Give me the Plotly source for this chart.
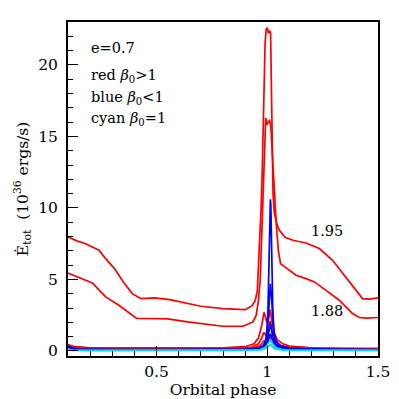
import plotly.graph_objects as go

# ---- data ----
r195_x = [0.10,0.14,0.18,0.24,0.27,0.31,0.35,0.39,0.43,0.49,0.56,0.63,0.70,0.80,0.90,0.93,0.945,0.955,0.962,0.972,0.978,0.985,0.99,0.995,1.0,1.005,1.01,1.015,1.018,1.022,1.026,1.032,1.045,1.055,1.08,1.115,1.175,1.235,1.295,1.355,1.40,1.43,1.46,1.5]
r195_y = [7.97,7.7,7.5,7.04,6.46,5.76,4.83,4.01,3.66,3.71,3.59,3.36,3.13,2.96,2.89,3.15,3.5,4.2,6.5,10.0,13.0,18.0,21.5,22.5,22.6,22.2,22.4,22.2,20.0,15.0,11.0,9.6,8.8,8.44,7.95,7.74,7.55,7.16,6.34,5.17,4.24,3.66,3.62,3.71]

r188_x = [0.10,0.14,0.18,0.21,0.27,0.33,0.37,0.41,0.46,0.55,0.64,0.70,0.80,0.89,0.935,0.95,0.96,0.968,0.975,0.982,0.988,0.993,0.998,1.003,1.01,1.016,1.022,1.03,1.04,1.05,1.06,1.09,1.13,1.175,1.213,1.265,1.325,1.385,1.415,1.45,1.5]
r188_y = [5.45,5.22,4.94,4.76,3.78,3.2,2.73,2.27,2.27,2.24,2.03,1.92,1.73,1.73,2.03,2.5,3.5,5.0,8.0,11.0,15.0,16.3,15.8,16.0,16.1,15.7,14.0,11.5,9.0,7.0,6.1,5.76,5.3,5.06,4.83,4.24,3.55,2.62,2.34,2.3,2.34]

r3_x = [0.10,0.13,0.2,0.4,0.6,0.8,0.9,0.94,0.96,0.975,0.985,0.993,1.0,1.007,1.013,1.02,1.03,1.045,1.07,1.1,1.2,1.35,1.5]
r3_y = [0.45,0.3,0.22,0.2,0.2,0.22,0.3,0.5,0.9,1.8,2.7,2.3,1.9,2.3,2.9,2.2,1.3,0.8,0.5,0.35,0.22,0.18,0.17]
r4_x = [0.10,0.13,0.2,0.5,0.8,0.93,0.96,0.975,0.985,0.995,1.003,1.013,1.022,1.035,1.06,1.1,1.25,1.5]
r4_y = [0.4,0.28,0.2,0.18,0.2,0.28,0.5,0.9,1.3,1.1,1.4,2.1,1.3,0.7,0.4,0.28,0.18,0.16]
r5_x = [0.10,0.13,0.2,0.5,0.8,0.94,0.97,0.985,0.995,1.005,1.013,1.022,1.04,1.07,1.15,1.5]
r5_y = [0.35,0.25,0.18,0.16,0.17,0.22,0.4,0.7,0.55,0.8,1.0,0.7,0.4,0.25,0.17,0.15]

b1_x = [0.10,0.12,0.15,0.3,0.6,0.9,0.96,0.98,0.99,0.997,1.003,1.007,1.01,1.012,1.014,1.016,1.018,1.021,1.025,1.03,1.037,1.05,1.07,1.1,1.2,1.5]
b1_y = [0.35,0.2,0.14,0.1,0.1,0.13,0.2,0.35,0.6,1.2,2.8,5.5,8.5,10.2,10.6,10.2,8.5,5.5,2.8,1.4,0.8,0.45,0.3,0.2,0.12,0.1]
b2_x = [0.10,0.12,0.15,0.3,0.6,0.9,0.96,0.98,0.99,0.998,1.004,1.009,1.014,1.019,1.024,1.03,1.04,1.055,1.08,1.12,1.3,1.5]
b2_y = [0.3,0.18,0.12,0.09,0.09,0.12,0.18,0.3,0.5,1.0,2.2,3.8,4.7,3.8,2.2,1.2,0.7,0.4,0.25,0.16,0.1,0.09]
b3_x = [0.10,0.12,0.15,0.3,0.6,0.9,0.97,0.99,1.0,1.008,1.014,1.02,1.028,1.04,1.06,1.1,1.3,1.5]
b3_y = [0.28,0.16,0.1,0.08,0.08,0.1,0.18,0.35,0.7,1.4,1.95,1.4,0.8,0.45,0.25,0.15,0.09,0.08]
b4_x = [0.10,0.12,0.15,0.3,0.6,0.9,0.97,0.99,1.002,1.009,1.014,1.019,1.027,1.045,1.08,1.2,1.5]
b4_y = [0.25,0.14,0.09,0.07,0.07,0.09,0.15,0.3,0.6,1.0,1.2,1.0,0.6,0.3,0.17,0.09,0.07]

c1_x = [0.10,0.12,0.2,0.5,0.9,0.97,0.995,1.007,1.015,1.022,1.035,1.06,1.1,1.5]
c1_y = [0.12,0.07,0.05,0.04,0.05,0.1,0.3,0.6,0.8,0.55,0.25,0.12,0.07,0.05]
c2_x = [0.10,0.12,0.2,0.5,0.9,0.97,0.995,1.007,1.015,1.022,1.035,1.06,1.1,1.5]
c2_y = [0.1,0.05,0.03,0.03,0.04,0.08,0.2,0.35,0.45,0.32,0.15,0.08,0.05,0.04]

curves = [
    (r5_x, r5_y, "red"), (r4_x, r4_y, "red"), (r3_x, r3_y, "red"),
    (b4_x, b4_y, "blue"), (b3_x, b3_y, "blue"), (b2_x, b2_y, "blue"), (b1_x, b1_y, "blue"),
    (r188_x, r188_y, "red"), (r195_x, r195_y, "red"),
    (c2_x, c2_y, "cyan"), (c1_x, c1_y, "cyan"),
]
colors = {"red": "#ff0000", "blue": "#0000ff", "cyan": "#00dede"}

legend_lines = ["e=0.7", "red <i>β</i><sub>0</sub>>1", "blue <i>β</i><sub>0</sub><1", "cyan <i>β</i><sub>0</sub>=1"]
legend_y = [21.2, 19.2, 17.7, 16.2]
curve_labels = ["1.95", "1.88"]
curve_label_x = [1.27, 1.27]
curve_label_y = [8.4, 2.8]

fig = go.Figure()
for xs, ys, c in curves:
    fig.add_trace(go.Scatter(x=xs, y=ys, mode="lines",
                             line=dict(color=colors[c], width=1.7),
                             showlegend=False, hoverinfo="skip"))

FONT = "DejaVu Serif"
for t, yv in zip(legend_lines, legend_y):
    fig.add_annotation(x=0.195, y=yv, xref="x", yref="y", text=t, showarrow=False,
                       xanchor="left", yanchor="middle",
                       font=dict(family=FONT, size=14.5, color="black"))
for t, xv, yv in zip(curve_labels, curve_label_x, curve_label_y):
    fig.add_annotation(x=xv, y=yv, xref="x", yref="y", text=t, showarrow=False,
                       xanchor="center", yanchor="middle",
                       font=dict(family=FONT, size=14.5, color="black"))

axis_common = dict(showline=True, linecolor="black", linewidth=2, mirror=True,
                   ticks="inside", tickcolor="black", tickwidth=1.3, ticklen=10,
                   showgrid=False, zeroline=False, automargin=False,
                   tickfont=dict(family=FONT, size=15.5, color="black"))

fig.update_xaxes(range=[0.1, 1.5], tickvals=[0.5, 1.0, 1.5], ticktext=["0.5", "1", "1.5"],
                 minor=dict(dtick=0.1, tick0=0.0, ticks="inside", ticklen=5, tickcolor="black", tickwidth=1.3),
                 title=dict(text="Orbital phase", font=dict(family=FONT, size=15.5, color="black"), standoff=2),
                 ticklabelstandoff=0,
                 **axis_common)
fig.update_yaxes(range=[-0.35, 23], tickvals=[0, 5, 10, 15, 20],
                 minor=dict(dtick=1, tick0=0, ticks="inside", ticklen=5, tickcolor="black", tickwidth=1.3),
                 title=dict(text="Ė<sub>tot</sub>  (10<sup>36</sup> ergs/s)",
                            font=dict(family=FONT, size=15.5, color="black"), standoff=6),
                 ticklabelstandoff=5,
                 **axis_common)

# page body has an 8px margin, so the figure is 391 px and offset by 8 px
fig.update_layout(width=391, height=391, margin=dict(l=60, r=21, t=14, b=43),
                  plot_bgcolor="white", paper_bgcolor="white")
fig.write_html("out.html")
